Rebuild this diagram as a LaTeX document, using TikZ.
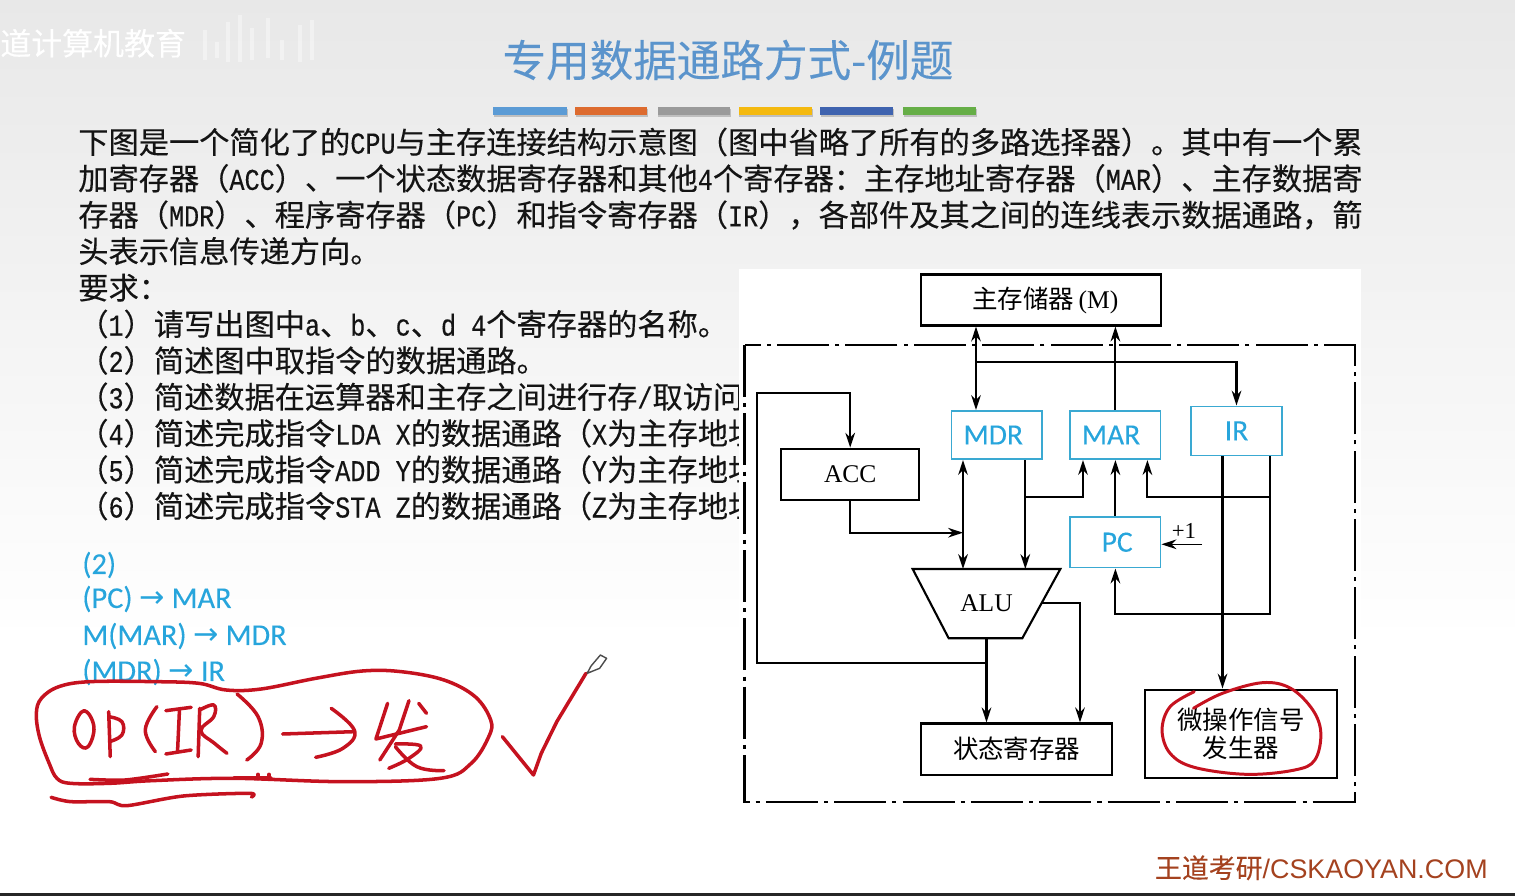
\documentclass[tikz,border=0pt]{standalone}
\usepackage{fontspec}
\usetikzlibrary{arrows.meta}
\setmainfont{Liberation Serif}
\newfontfamily\cjk{Noto Sans CJK SC}
\newfontfamily\cjkb[FakeBold=0.25]{Noto Sans CJK SC}
\newfontfamily\latfont[FakeStretch=0.833,FakeBold=0.25]{Liberation Mono}
\newfontfamily\caliber[FakeBold=0.15]{Carlito}
\newfontfamily\arrowfont{DejaVu Sans}
\newfontfamily\wmfont{Liberation Sans}
\newcommand{\lat}[1]{{\latfont #1}}
\newcommand{\rarr}{{\arrowfont →}}
\definecolor{titleblue}{HTML}{5B94CC}
\definecolor{regblue}{HTML}{3AA9D2}
\definecolor{textblue}{HTML}{27A5DC}
\definecolor{inkred}{HTML}{C5121F}
\definecolor{wmbrown}{HTML}{A4421F}
\definecolor{barblue}{HTML}{5B9BD5}
\definecolor{barorange}{HTML}{DD6B2F}
\definecolor{bargray}{HTML}{9A9A9A}
\definecolor{bargold}{HTML}{F4B90F}
\definecolor{barnavy}{HTML}{3F63AF}
\definecolor{bargreen}{HTML}{66AE47}
\tikzset{
  txtline/.style={anchor=base west,inner sep=0pt,text=black!92,font=\cjkb\fontsize{17.2}{20}\selectfont},
  ansline/.style={anchor=west,inner sep=0pt,text=textblue,font=\caliber\fontsize{17.25}{20}\selectfont},
  blackbox/.style={draw=black,line width=1.2pt,inner sep=0pt,align=center,font=\cjk\fontsize{14.5}{16}\selectfont},
  regbox/.style={draw=regblue,line width=0.9pt,inner sep=0pt,text=textblue,font=\caliber\fontsize{16.8}{20}\selectfont},
  link/.style={line width=1.2pt},
  ink/.style={draw=inkred,line width=2pt,line cap=round,line join=round},
}
\begin{document}
\begin{tikzpicture}[x=0.02cm,y=-0.02cm,>={Stealth[length=8.5pt,width=5.5pt]}]
  \useasboundingbox (0,0) rectangle (1515,896);

  % Background
  \shade[top color=black!9,bottom color=white] (0,0) rectangle (1515,640);
  \fill[black!85] (0,893) rectangle (1515,896);

  % Logo in the corner
  \node[anchor=base west,inner sep=0pt,text=white,font=\cjkb\fontsize{17.6}{20}\selectfont] (logo) at (0,55) {道计算机教育};
  \foreach \xa/\ya/\yb in {205/30/60,217/42/58,228/22/62,240/15/62,252/28/60,268/18/58,282/40/60,300/25/62,312/20/60}
    \draw[white,opacity=0.4,line width=2.2pt] (\xa,\ya) -- (\xa,\yb);

  % Title and the coloured bars
  \node[inner sep=0pt,text=titleblue,font=\cjkb\fontsize{24.8}{28}\selectfont] (title) at (728,60) {专用数据通路方式-例题};
  \fill[black!25] (494,109) rectangle (568,117);
  \fill[black!25] (576,109) rectangle (648,117);
  \fill[black!25] (658,109) rectangle (731,117);
  \fill[black!25] (739,109) rectangle (813,117);
  \fill[black!25] (821,109) rectangle (894,117);
  \fill[black!25] (904,109) rectangle (977,117);
  \fill[barblue] (493,107) rectangle (567,115);
  \fill[barorange] (575,107) rectangle (647,115);
  \fill[bargray] (658,107) rectangle (730,115);
  \fill[bargold] (739,107) rectangle (812,115);
  \fill[barnavy] (820,107) rectangle (893,115);
  \fill[bargreen] (903,107) rectangle (976,115);

  % Question text
  \node[txtline] (q1) at (78,153.5) {下图是一个简化了的\lat{CPU}与主存连接结构示意图（图中省略了所有的多路选择器）。其中有一个累};
  \node[txtline] (q2) at (78,189.9) {加寄存器（\lat{ACC}）、一个状态数据寄存器和其他\lat{4}个寄存器：主存地址寄存器（\lat{MAR}）、主存数据寄};
  \node[txtline] (q3) at (78,226.3) {存器（\lat{MDR}）、程序寄存器（\lat{PC}）和指令寄存器（\lat{IR}），各部件及其之间的连线表示数据通路，箭};
  \node[txtline] (q4) at (78,262.7) {头表示信息传递方向。};
  \node[txtline] (q5) at (78,299.1) {要求：};
  \node[txtline] (r1) at (78,335.5) {（\lat{1}）请写出图中\lat{a}、\lat{b}、\lat{c}、\lat{d 4}个寄存器的名称。};
  \node[txtline] (r2) at (78,371.9) {（\lat{2}）简述图中取指令的数据通路。};
  \node[txtline] (r3) at (78,408.3) {（\lat{3}）简述数据在运算器和主存之间进行存\lat{/}取访问};
  \node[txtline] (r4) at (78,444.7) {（\lat{4}）简述完成指令\lat{LDA X}的数据通路（\lat{X}为主存地址};
  \node[txtline] (r5) at (78,481.1) {（\lat{5}）简述完成指令\lat{ADD Y}的数据通路（\lat{Y}为主存地址};
  \node[txtline] (r6) at (78,517.5) {（\lat{6}）简述完成指令\lat{STA Z}的数据通路（\lat{Z}为主存地址};

  % Answer text
  \node[ansline] (a0) at (82,565) {(2)};
  \node[ansline] (a1) at (82,599) {(PC) \rarr{} MAR};
  \node[ansline] (a2) at (82,636) {M(MAR) \rarr{} MDR};
  \node[ansline] (a3) at (82,672) {(MDR) \rarr{} IR};

  % Sheet behind the figure
  \fill[white] (739,269) rectangle (1361,808);

  % Outer dash-dot frame
  \draw[line width=1.3pt,dash pattern=on 29.6pt off 3.5pt on 2.3pt off 3.5pt] (744.5,345) rectangle (1355,802);

  % Units
  \node[blackbox,minimum width=4.8cm,minimum height=1.02cm] (mem) at (1041,300) {\hspace*{5pt}主存储器\,{\rmfamily (M)}};
  \node[blackbox,minimum width=2.76cm,minimum height=1.02cm,font=\rmfamily\fontsize{14.5}{16}\selectfont] (acc) at (850.2,474.2) {ACC};
  \node[regbox,minimum width=1.81cm,minimum height=0.97cm] (mdr) at (996.8,435) {MDR\hspace*{4pt}};
  \node[regbox,minimum width=1.81cm,minimum height=0.97cm] (mar) at (1115.4,435) {MAR\hspace*{5pt}};
  \node[regbox,minimum width=1.82cm,minimum height=0.98cm] (ir) at (1236.5,430.8) {IR};
  \node[regbox,minimum width=1.81cm,minimum height=1.02cm] (pc) at (1115.4,542.2) {\hspace*{2pt}PC};
  \node[minimum width=2.94cm,minimum height=1.37cm,inner sep=0pt,font=\rmfamily\fontsize{14.5}{16}\selectfont] (alu) at (986.5,603.6) {ALU};
  \draw[line width=1.2pt,line join=miter] (alu.north west) -- (alu.north east) -- ([xshift=-0.76cm]alu.south east) -- ([xshift=0.72cm]alu.south west) -- cycle;
  \node[blackbox,minimum width=3.83cm,minimum height=1.03cm] (stat) at (1016.7,749.2) {状态寄存器};
  \node[blackbox,minimum width=3.84cm,minimum height=1.77cm,font=\cjk\fontsize{14.5}{16}\selectfont] (micro) at (1241,733.8) {微操作信号\\发生器};
  \node[inner sep=0pt,font=\rmfamily\fontsize{13}{15}\selectfont] (inc) at (1184,531) {+1};

  % Junctions on the lines
  \coordinate (busy) at (976,361.7);
  \coordinate (loopb) at (757.3,662.7);
  \coordinate (loopt) at (757.3,393.3);
  \coordinate (accin) at (963,532.7);
  \coordinate (brmdr) at (1025.3,497.3);
  \coordinate (brmar) at (1083,497.3);
  \coordinate (brir) at (1270.3,497.3);
  \coordinate (brpc) at (1147.4,497.3);
  \coordinate (pcfb) at (1270.3,614.3);
  \coordinate (ctrl) at (1222.5,600);
  \coordinate (aluout) at (1041.3,603.3);
  \coordinate (flagx) at (1080,700);
  \coordinate (incs) at (1202,544.3);

  % Connectors
  \draw[<->,link] (mem.south -| busy) -- (mdr.north -| busy);
  \draw[->,link] (mar.north) -- (mar.north |- mem.south);
  \draw[->,link] (busy) -| (ir.north);
  \draw[->,link] (alu.south |- loopb) -- (loopb) -- (loopt) -| (acc.north);
  \draw[->,link] (alu.south) -- (alu.south |- stat.north);
  \draw[->,link] (aluout) -| (flagx |- stat.north);
  \draw[->,link] (acc.south) |- (accin);
  \draw[<->,link] (mdr.south -| accin) -- (alu.north -| accin);
  \draw[->,link] (mdr.south -| brmdr) -- (alu.north -| brmdr);
  \draw[->,link] (brmdr) -- (brmar) -- (brmar |- mar.south);
  \draw[->,link] (pc.north) -- (pc.north |- mar.south);
  \draw[->,link] (ir.south -| brir) -- (pcfb) -| (pc.south);
  \draw[->,link] (brir) -- (brpc) -- (brpc |- mar.south);
  \draw[->,link] (ir.south -| ctrl) -- (ctrl |- micro.north);
  \draw[->,line width=0.9pt] (incs) -- (incs -| pc.east);

  % Red ring on the signal generator
  \begin{scope}[shift={(740,530)},x=0.008035cm,y=-0.006667cm]
    \draw[ink,line width=1.7pt] plot[smooth,tension=0.6] coordinates {(1128,535) (1200,490) (1300,458) (1370,475) (1425,540) (1445,610) (1430,690) (1380,720) (1260,733) (1130,712) (1070,670) (1050,600) (1070,530) (1130,485)};
  \end{scope}

  % Handwriting
  \begin{scope}[shift={(20,540)},x=0.007782cm,y=-0.006667cm]
    \draw[ink] plot[smooth cycle,tension=0.6] coordinates {(180,425) (100,440) (55,475) (42,520) (50,590) (75,670) (95,715) (130,730) (230,730) (340,722) (550,715) (830,725) (1080,715) (1160,670) (1205,590) (1210,540) (1170,470) (1090,420) (980,395) (880,393) (760,415) (620,447) (530,450) (460,430) (350,425)};
    % O and P
    \draw[ink] plot[smooth cycle,tension=0.7] coordinates {(165,512) (190,560) (175,620) (150,610) (140,560)};
    \draw[ink] (228,515) -- (232,650);
    \draw[ink] plot[smooth,tension=0.7] coordinates {(228,530) (262,545) (262,585) (230,605)};
    % bracket, I, R, bracket
    \draw[ink] plot[smooth,tension=0.7] coordinates {(352,500) (322,570) (348,635)};
    \draw[ink] (375,512) -- (440,502);
    \draw[ink] (410,508) -- (405,635);
    \draw[ink] (375,642) -- (440,630);
    \draw[ink] (458,650) -- (462,505);
    \draw[ink] plot[smooth,tension=0.7] coordinates {(462,510) (498,495) (498,530) (465,572) (500,610) (532,640)};
    \draw[ink] plot[smooth,tension=0.7] coordinates {(558,462) (612,530) (620,610) (583,660)};
    % arrow
    \draw[ink] (675,582) -- (860,575);
    \draw[ink] plot[smooth,tension=0.7] coordinates {(800,505) (860,572) (830,625) (760,652)};
    % the sign
    \draw[ink] (945,490) -- (915,597) -- (1045,560);
    \draw[ink] (1000,482) -- (975,570) -- (925,660);
    \draw[ink] (1025,490) -- (1045,520);
    \draw[ink] plot[smooth,tension=0.7] coordinates {(965,612) (1030,618) (1000,655) (948,685)};
    \draw[ink] plot[smooth,tension=0.7] coordinates {(965,620) (1020,680) (1090,692)};
    % underlines
    \draw[ink] plot[smooth,tension=0.5] coordinates {(80,772) (130,785) (230,785) (275,797) (420,768) (590,760) (595,771)};
    \draw[ink] plot[smooth,tension=0.5] coordinates {(180,718) (270,720) (380,702)};
    \draw[ink] (550,712) -- (645,712);
    \draw[ink] (612,703) -- (612,716);
    \draw[ink] (640,703) -- (640,716);
    % tick mark
    \draw[ink] (1240,590) -- (1320,705) -- (1340,640) -- (1380,545) -- (1455,400);
    % pen
    \draw[fill=white,draw=black!70,line width=0.8pt,line join=round] (1458,400) -- (1468,378) -- (1492,345) -- (1508,355) -- (1490,385) -- cycle;
  \end{scope}

  % Site mark
  \node[anchor=base east,inner sep=0pt,text=wmbrown,font=\cjkb\fontsize{15.3}{17}\selectfont] (site) at (1488,878) {王道考研{\wmfont /CSKAOYAN.COM}};
\end{tikzpicture}
\end{document}
